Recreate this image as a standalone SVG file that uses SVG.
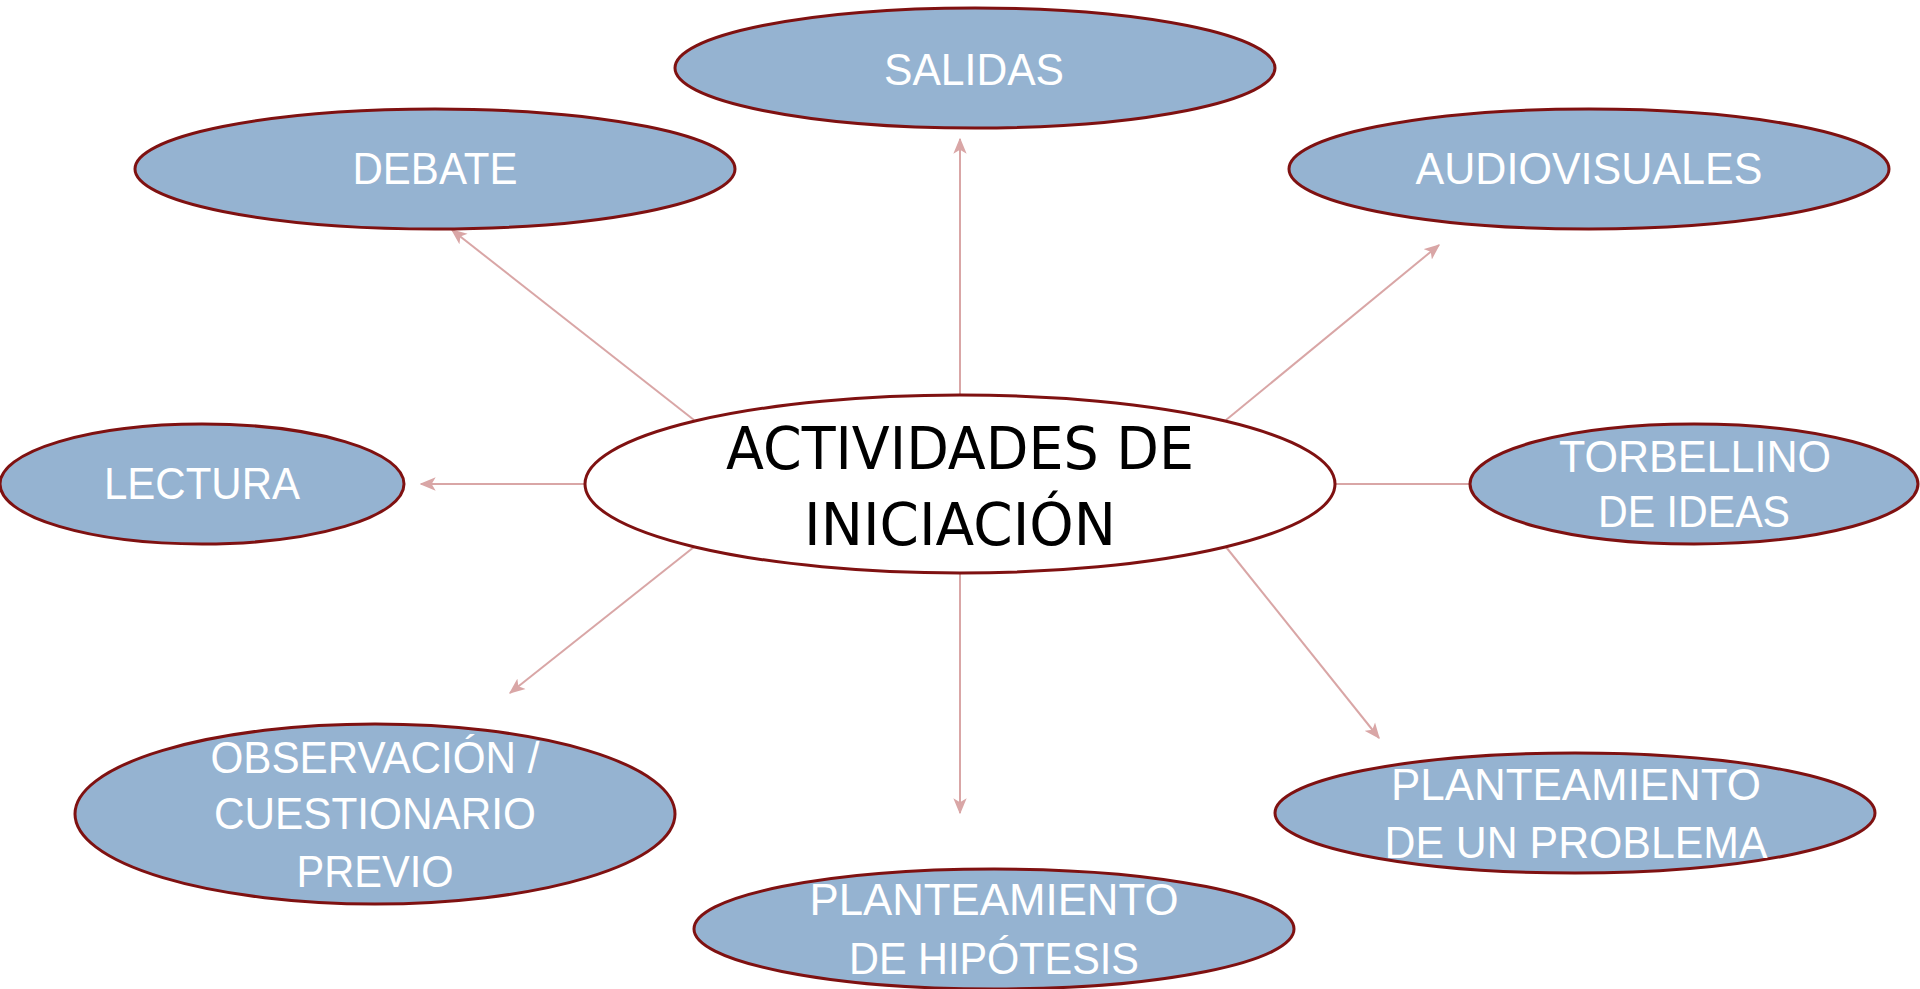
<svg xmlns="http://www.w3.org/2000/svg" width="1920" height="989" viewBox="0 0 1920 989">
<defs>
<style>
.n{fill:#95b3d1;stroke:#7f1111;stroke-width:3}
.c{fill:#ffffff;stroke:#7f1111;stroke-width:3}
.t{font-family:"Liberation Sans",Arial,sans-serif;font-size:44px;fill:#ffffff;text-anchor:middle}
.m{font-family:"DejaVu Sans","Liberation Sans",sans-serif;font-size:58px;fill:#000000;text-anchor:middle}
.e{stroke:#d9a6a6;stroke-width:2;fill:none}
.a{marker-end:url(#ah)}
</style>
<marker id="ah" viewBox="0 0 12 10" refX="11" refY="5" markerWidth="8" markerHeight="7" markerUnits="strokeWidth" orient="auto">
<path d="M0,0 L12,5 L0,10 L3,5 z" fill="#d9a6a6"/>
</marker>
</defs>
<rect width="1920" height="989" fill="#ffffff"/>
<g id="connectors">
<line class="e a" x1="694" y1="420" x2="452" y2="230"/>
<line class="e a" x1="960" y1="394" x2="960" y2="139"/>
<line class="e a" x1="1226" y1="420" x2="1439" y2="245"/>
<line class="e a" x1="585" y1="484" x2="421" y2="484"/>
<line class="e" x1="1335" y1="484" x2="1470" y2="484"/>
<line class="e a" x1="694" y1="547" x2="510" y2="693"/>
<line class="e a" x1="960" y1="573" x2="960" y2="813"/>
<line class="e a" x1="1226" y1="547" x2="1379" y2="738"/>
</g>
<g id="center">
<ellipse class="c" cx="960" cy="484" rx="375" ry="89"/>
<text class="m" x="960" y="469" textLength="468" lengthAdjust="spacingAndGlyphs">ACTIVIDADES DE</text>
<text class="m" x="960" y="545" textLength="312" lengthAdjust="spacingAndGlyphs">INICIACIÓN</text>
</g>
<g id="salidas">
<ellipse class="n" cx="975" cy="68" rx="300" ry="60"/>
<text class="t" x="974" y="85" textLength="180" lengthAdjust="spacingAndGlyphs">SALIDAS</text>
</g>
<g id="debate">
<ellipse class="n" cx="435" cy="169" rx="300" ry="60"/>
<text class="t" x="435" y="184" textLength="165" lengthAdjust="spacingAndGlyphs">DEBATE</text>
</g>
<g id="audiovisuales">
<ellipse class="n" cx="1589" cy="169" rx="300" ry="60"/>
<text class="t" x="1589" y="184" textLength="347" lengthAdjust="spacingAndGlyphs">AUDIOVISUALES</text>
</g>
<g id="lectura">
<ellipse class="n" cx="202" cy="484" rx="202" ry="60"/>
<text class="t" x="202" y="499" textLength="196" lengthAdjust="spacingAndGlyphs">LECTURA</text>
</g>
<g id="torbellino">
<ellipse class="n" cx="1694" cy="484" rx="224" ry="60"/>
<text class="t" x="1695" y="472" textLength="272" lengthAdjust="spacingAndGlyphs">TORBELLINO</text>
<text class="t" x="1694" y="527" textLength="192" lengthAdjust="spacingAndGlyphs">DE IDEAS</text>
</g>
<g id="observacion">
<ellipse class="n" cx="375" cy="814" rx="300" ry="90"/>
<text class="t" x="375" y="773" textLength="329" lengthAdjust="spacingAndGlyphs">OBSERVACIÓN /</text>
<text class="t" x="375" y="829" textLength="322" lengthAdjust="spacingAndGlyphs">CUESTIONARIO</text>
<text class="t" x="375" y="887" textLength="157" lengthAdjust="spacingAndGlyphs">PREVIO</text>
</g>
<g id="hipotesis">
<ellipse class="n" cx="994" cy="929" rx="300" ry="60"/>
<text class="t" x="994" y="915" textLength="369" lengthAdjust="spacingAndGlyphs">PLANTEAMIENTO</text>
<text class="t" x="994" y="974" textLength="290" lengthAdjust="spacingAndGlyphs">DE HIPÓTESIS</text>
</g>
<g id="problema">
<ellipse class="n" cx="1575" cy="813" rx="300" ry="60"/>
<text class="t" x="1576" y="800" textLength="370" lengthAdjust="spacingAndGlyphs">PLANTEAMIENTO</text>
<text class="t" x="1576" y="858" textLength="383" lengthAdjust="spacingAndGlyphs">DE UN PROBLEMA</text>
</g>
</svg>
